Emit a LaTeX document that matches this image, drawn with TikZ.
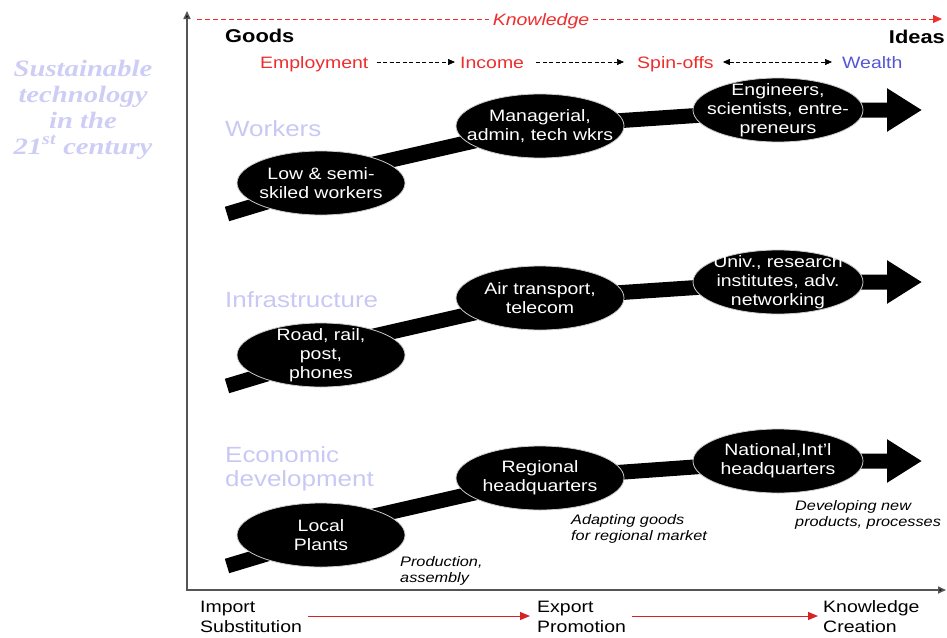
\documentclass[tikz,border=0pt]{standalone}
\usepackage{fontspec}
\setmainfont{Liberation Sans}[FakeStretch=1.18]
\newfontfamily\titlefont{Liberation Serif}[FakeStretch=1.22]
\usetikzlibrary{arrows.meta,shapes.geometric,backgrounds}
\definecolor{kred}{RGB}{238,45,45}
\definecolor{kblue}{RGB}{85,85,215}
\definecolor{lav}{RGB}{200,200,245}
\definecolor{titlelav}{RGB}{205,205,245}
\definecolor{axisgray}{RGB}{85,85,85}
\definecolor{arrowred}{RGB}{215,35,35}
\begin{document}
\begin{tikzpicture}[x=1pt,y=-1pt,
  oval/.style={ellipse,fill=black,draw=gray!40,line width=0.8pt,minimum width=168pt,minimum height=64pt,inner sep=0pt},
  ovaltext/.style={text=white,font=\fontsize{16.5}{18.8}\selectfont,align=center,inner sep=0pt},
  band/.style={line width=15pt,draw=black,line join=miter},
  bandtip/.style={-{Triangle[length=35pt,width=41pt]}},
  rowlabel/.style={text=lav,font=\fontsize{22}{24}\selectfont,inner sep=0pt,align=left},
  toplabel/.style={font=\fontsize{16.5}{19}\selectfont,inner sep=0pt},
  note/.style={font=\itshape\fontsize{13.8}{16.5}\selectfont,inner sep=0pt,align=left},
  bottomlabel/.style={font=\fontsize{16.5}{20}\selectfont,inner sep=0pt,align=left},
  titleline/.style={text=titlelav,font=\titlefont\bfseries\itshape\fontsize{23.5}{25.7}\selectfont,inner sep=0pt,anchor=base},
  axis/.style={draw=axisgray,line width=1.6pt,-{Triangle[length=8pt,width=7pt,fill=black]}},
  dasharrow/.style={draw=black,line width=0.7pt,dash pattern=on 4pt off 2.5pt,-{Triangle[length=7pt,width=6pt]}},
  redarrow/.style={draw=arrowred,line width=1pt,-{Triangle[length=10pt,width=8pt]}}
]
\useasboundingbox (0,0) rectangle (947,637);

% title
\node[titleline] (t1) at (83,76) {Sustainable};
\node[titleline] (t2) at (83,102) {technology};
\node[titleline] (t3) at (83,128) {in the};
\node[titleline] (t4) at (83,154) {21\textsuperscript{st} century};

% axes
\coordinate (origin) at (187,590);
\coordinate (ytop) at (187,11);
\coordinate (xend) at (946,590);
\draw[axis] (origin) -- (ytop);
\draw[axis] ([xshift=-0.8pt]origin) -- (xend);

% knowledge arrow
\node[toplabel,text=kred,font=\itshape\fontsize{16.5}{19}\selectfont,fill=white,inner xsep=4pt,anchor=base] (know) at (541,25) {Knowledge};
\coordinate (ks) at (197,19);
\coordinate (ke) at (942,19);
\draw[draw=kred,line width=0.8pt,dash pattern=on 5pt off 3pt] (ks) -- (know.west |- ks);
\draw[draw=kred,line width=0.8pt,dash pattern=on 5pt off 3pt,-{Triangle[length=9pt,width=8pt]}] (know.east |- ke) -- (ke);

\node[toplabel,font=\bfseries\fontsize{18.5}{20}\selectfont,anchor=base west] (goods) at (225,42) {Goods};
\node[toplabel,font=\bfseries\fontsize{18.5}{20}\selectfont,anchor=base east] (ideas) at (945,43) {Ideas};

\node[toplabel,text=kred,anchor=base west] (emp) at (260,68) {Employment};
\node[toplabel,text=kred,anchor=base west] (inc) at (460,68) {Income};
\node[toplabel,text=kred,anchor=base west] (spin) at (637,68) {Spin-offs};
\node[toplabel,text=kblue,anchor=base west] (wealth) at (842,68) {Wealth};
\draw[dasharrow] ([xshift=8pt,yshift=6pt]emp.base east) -- ([xshift=-5pt,yshift=6pt]inc.base west);
\draw[dasharrow] ([xshift=12pt,yshift=6pt]inc.base east) -- ([xshift=-13pt,yshift=6pt]spin.base west);
\draw[dasharrow,{Triangle[length=7pt,width=6pt]}-{Triangle[length=7pt,width=6pt]}] ([xshift=9pt,yshift=6pt]spin.base east) -- ([xshift=-10pt,yshift=6pt]wealth.base west);

% row labels
\node[rowlabel,anchor=base west] (lw) at (225,136) {Workers};
\node[rowlabel,anchor=base west] (li) at (225,307) {Infrastructure};
\node[rowlabel,anchor=west] (le) at (225,469) {Economic\\development};

% band coordinates
\coordinate (ws) at (227,214); \coordinate (wa) at (300,192); \coordinate (wb) at (330,174); \coordinate (wt) at (922,110);
\coordinate (is) at (227,386); \coordinate (ia) at (300,364); \coordinate (ib) at (330,346); \coordinate (it) at (922,282);
\coordinate (es) at (227,566); \coordinate (ea) at (300,544); \coordinate (eb) at (330,526); \coordinate (et) at (922,461);

% ellipses
\node[oval] (w1) at (321,183) {};
\node[oval] (w2) at (540,126) {};
\node[oval,minimum width=170pt] (w3) at (778,110) {};
\node[oval] (i1) at (321,355) {};
\node[oval] (i2) at (540,298) {};
\node[oval,minimum width=170pt] (i3) at (778,282) {};
\node[oval] (e1) at (321,535) {};
\node[oval] (e2) at (540,478) {};
\node[oval,minimum width=170pt] (e3) at (778,461) {};

% bands behind the ellipses
\begin{pgfonlayer}{background}
\draw[band,bandtip] (ws) -- (wa) -- (wb) -- (w2.center) -- (w3.center) -- (wt);
\draw[band,bandtip] (is) -- (ia) -- (ib) -- (i2.center) -- (i3.center) -- (it);
\draw[band,bandtip] (es) -- (ea) -- (eb) -- (e2.center) -- (e3.center) -- (et);
\end{pgfonlayer}

% ellipse texts
\node[ovaltext] (w1t) at (w1.center) {Low \& semi-\\skiled workers};
\node[ovaltext] (w2t) at (w2.center) {Managerial,\\admin, tech wkrs};
\node[ovaltext] (w3t) at (w3.center) {Engineers,\\scientists, entre-\\preneurs};
\node[ovaltext] (i1t) at (i1.center) {Road, rail,\\post,\\phones};
\node[ovaltext] (i2t) at (i2.center) {Air transport,\\telecom};
\node[ovaltext] (i3t) at (i3.center) {Univ., research\\institutes, adv.\\networking};
\node[ovaltext] (e1t) at (e1.center) {Local\\Plants};
\node[ovaltext] (e2t) at (e2.center) {Regional\\headquarters};
\node[ovaltext] (e3t) at (e3.center) {National,Int'l\\headquarters};

% notes
\node[note,anchor=west] (n1) at (400,571) {Production,\\assembly};
\node[note,anchor=west] (n2) at (571,529) {Adapting goods\\for regional market};
\node[note,anchor=west] (n3) at (795,515) {Developing new\\products, processes};

% bottom
\node[bottomlabel,anchor=west] (b1) at (200,617) {Import\\Substitution};
\node[bottomlabel,anchor=west] (b2) at (537,617) {Export\\Promotion};
\node[bottomlabel,anchor=west] (b3) at (823,617) {Knowledge\\Creation};
\draw[redarrow] ([xshift=6pt]b1.east |- 0,616) -- ([xshift=-7pt]b2.west |- 0,616);
\draw[redarrow] ([xshift=6pt]b2.east |- 0,616) -- ([xshift=-5pt]b3.west |- 0,616);
\end{tikzpicture}
\end{document}
